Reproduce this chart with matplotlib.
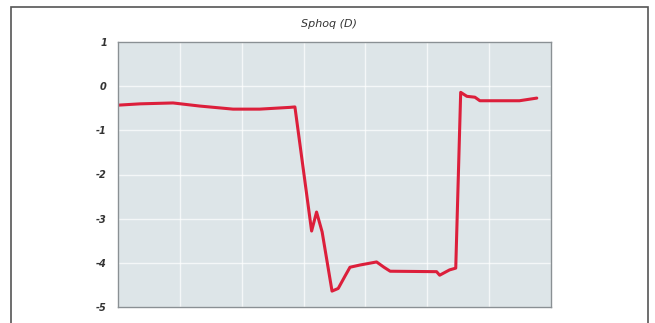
import matplotlib
matplotlib.use("Agg")
import matplotlib.pyplot as plt
from matplotlib.patches import Rectangle

title = "Sphoq (D)"
x_vals = [0.00, 0.36, 0.89, 1.32, 1.86, 2.29, 2.78, 2.86, 3.13, 3.21, 3.30, 3.46, 3.56,
          3.67, 3.75, 3.91, 4.18, 4.30, 4.40, 5.15, 5.20, 5.36, 5.46, 5.54, 5.64, 5.77, 5.85, 6.49, 6.77]
y_vals = [-0.43, -0.40, -0.38, -0.45, -0.52, -0.52, -0.48, -0.47, -3.28, -2.85, -3.30, -4.64, -4.58,
          -4.30, -4.10, -4.05, -3.98, -4.10, -4.19, -4.20, -4.28, -4.16, -4.12, -0.14, -0.23, -0.25, -0.33, -0.33, -0.27]
y_ticks = [1, 0, -1, -2, -3, -4, -5]

fig = plt.figure(figsize=(6.55, 3.23), dpi=100)
fig.patch.set_facecolor("white")
fig.add_artist(Rectangle((11/655, -0.05), (648-11)/655, (323-7)/323 + 0.05,
                         transform=fig.transFigure, fill=False, edgecolor="#555555", lw=1.2))

ax = fig.add_axes([118/655, 16/323, (551-118)/655, (307-42)/323])
ax.set_facecolor("#dde5e8")
ax.plot(x_vals, y_vals, color="#dc1f3b", lw=2.2, solid_joinstyle="round", solid_capstyle="round")
ax.set_xlim(0, 7)
ax.set_ylim(-5, 1)
ax.set_yticks(y_ticks)
ax.set_yticklabels([str(t) for t in y_ticks], fontsize=7, fontstyle="italic",
                   fontweight="bold", color="#333333")
ax.set_xticks(range(0, 8))
ax.set_xticklabels([])
ax.tick_params(length=0, pad=8)
ax.grid(True, color="white", lw=1.0, alpha=0.7)
ax.set_axisbelow(True)
for s in ax.spines.values():
    s.set_color("#8a9094")
    s.set_linewidth(1.0)
fig.text(329/655, 1 - 24/323, title, ha="center", va="center", fontsize=8,
         fontstyle="italic", color="#333333")
fig.savefig("out.png", dpi=100)
